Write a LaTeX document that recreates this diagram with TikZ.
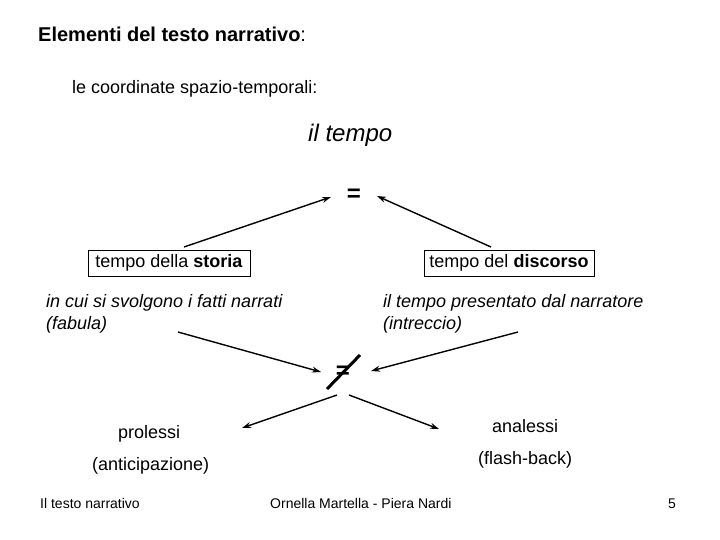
\documentclass[tikz,border=0pt]{standalone}
\usepackage{fontspec}
\setmainfont{Liberation Sans}
\usetikzlibrary{arrows.meta}
\tikzset{
  txt/.style={anchor=base west, inner sep=0pt, font=\fontsize{18}{20}\selectfont},
  itxt/.style={txt, font=\fontsize{18}{20}\selectfont\itshape},
  tbox/.style={draw, line width=1pt, minimum height=26pt, inner sep=0pt, font=\fontsize{18}{20}\selectfont},
  arr/.style={line width=1.4pt, -{Stealth[length=9pt,width=6pt]}}
}
\begin{document}
\begin{tikzpicture}[x=1pt, y=-1pt]
    \useasboundingbox (0,0) rectangle (720,540);

    % Title
    \node[txt, font=\fontsize{20}{22}\selectfont] (title) at (38,42) {\textbf{Elementi del testo narrativo}:};
    \node[txt] (sub) at (72,94) {le coordinate spazio-temporali:};
    \node[itxt, font=\fontsize{24}{26}\selectfont\itshape] (tempo) at (308,142) {il tempo};

    % Equals sign
    \node[inner sep=0pt, font=\fontsize{24}{24}\selectfont\bfseries] (eq) at (354,195) {=};

    % Boxes
    \node[tbox, minimum width=162pt] (storia) at (169,263) {tempo della \textbf{storia}};
    \node[tbox, minimum width=170pt] (discorso) at (509,263) {tempo del \textbf{discorso}};

    % Arrows to the equals sign
    \coordinate (s1) at (184,247);
    \coordinate (e1) at (331,197);
    \coordinate (s2) at (491,247);
    \coordinate (e2) at (377,196);
    \draw[arr] (s1) -- (e1);
    \draw[arr] (s2) -- (e2);

    % Descriptions
    \node[itxt] (fab1) at (46,307) {in cui si svolgono i fatti narrati};
    \node[itxt] (fab2) at (46,329) {(fabula)};
    \node[itxt] (intr1) at (383,307) {il tempo presentato dal narratore};
    \node[itxt] (intr2) at (383,329) {(intreccio)};

    % Not equal sign
    \node[inner sep=0pt, font=\fontsize{24}{24}\selectfont\bfseries] (neq) at (343,372) {=};
    \draw[line width=3pt] (327,389) -- (360,355);

    % Arrows to and from the not equal sign
    \coordinate (s3) at (178,332);
    \coordinate (e3) at (321,372);
    \coordinate (s4) at (518,332);
    \coordinate (e4) at (371,371);
    \draw[arr] (s3) -- (e3);
    \draw[arr] (s4) -- (e4);
    \coordinate (s5) at (337,395);
    \coordinate (e5) at (242,428);
    \coordinate (s6) at (349,395);
    \coordinate (e6) at (439,429);
    \draw[arr] (s5) -- (e5);
    \draw[arr] (s6) -- (e6);

    % Labels
    \node[txt] (pro) at (118,438) {prolessi};
    \node[txt] (ana) at (492,432) {analessi};
    \node[txt] (anti) at (92,470) {(anticipazione)};
    \node[txt] (flash) at (478,464) {(flash-back)};

    % Footer
    \node[txt, font=\fontsize{14}{16}\selectfont] (f1) at (40,508) {Il testo narrativo};
    \node[txt, font=\fontsize{14}{16}\selectfont] (f2) at (270,508) {Ornella Martella - Piera Nardi};
    \node[txt, font=\fontsize{14}{16}\selectfont] (f3) at (668,508) {5};
\end{tikzpicture}
\end{document}
